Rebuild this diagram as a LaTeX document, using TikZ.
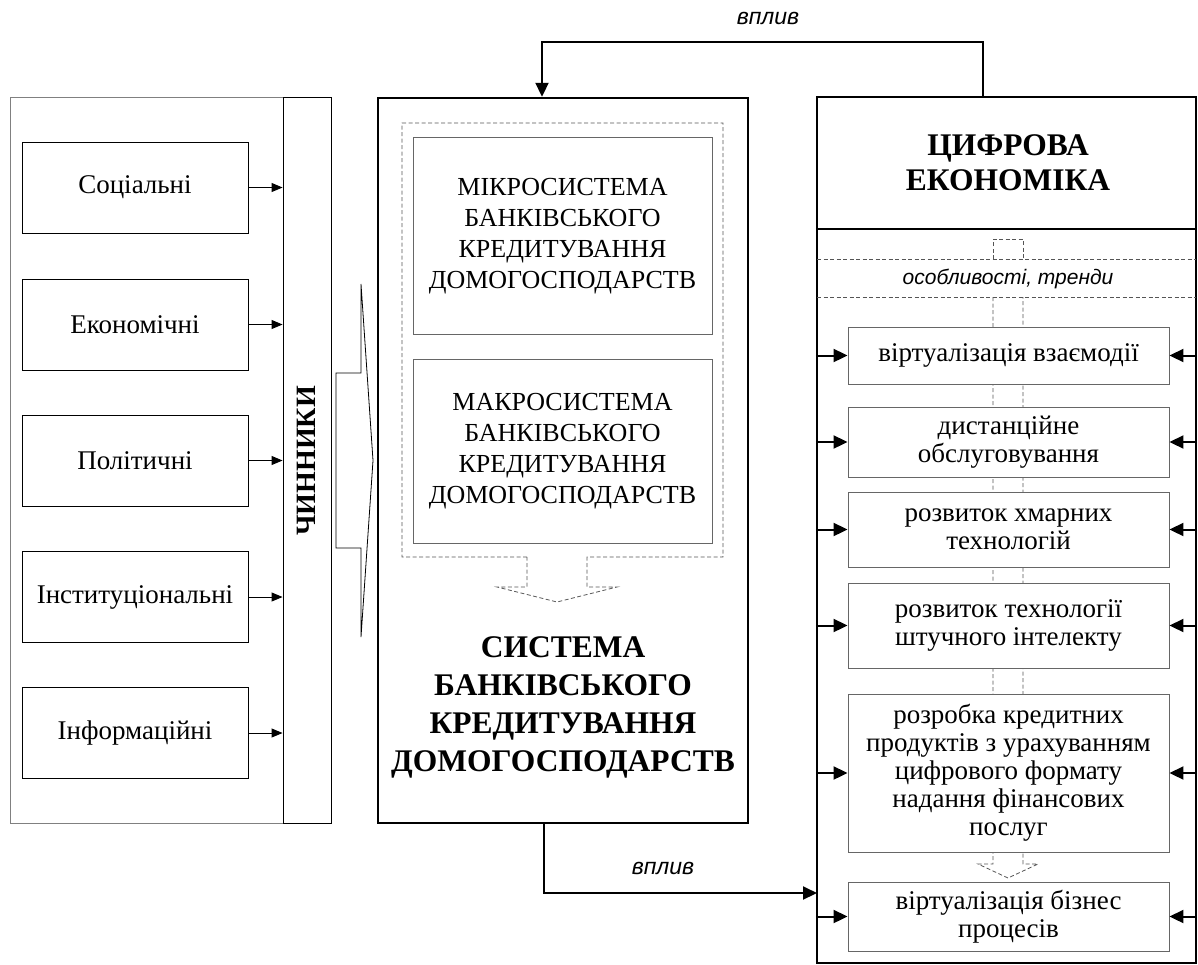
\documentclass[tikz,border=0pt]{standalone}
\usepackage{fontspec}
\setmainfont{Liberation Serif}
\newfontfamily\labelfont{Liberation Sans}
\usetikzlibrary{arrows.meta}
\definecolor{boxgray}{HTML}{666666}
\definecolor{outgray}{HTML}{808080}
\definecolor{dashgray}{HTML}{555555}
\tikzset{
  leftbox/.style={draw=black, line width=0.9pt, fill=white, minimum width=226pt, minimum height=91pt, inner sep=0pt, font=\fontsize{27}{31}\selectfont},
  midbox/.style={draw=boxgray, line width=0.9pt, fill=white, minimum width=299pt, inner sep=0pt, align=center, font=\fontsize{26}{31}\selectfont},
  rightbox/.style={draw=boxgray, line width=0.9pt, fill=white, minimum width=321pt, inner sep=0pt, align=center, font=\fontsize{27}{28}\selectfont},
  thinarrow/.style={line width=0.9pt, -{Triangle[length=11pt,width=9pt]}},
  thickarrow/.style={line width=2pt, -{Triangle[length=14pt,width=13pt]}},
  dashline/.style={draw=dashgray, line width=0.8pt, dash pattern=on 4pt off 2.5pt},
  infl/.style={font=\labelfont\itshape\fontsize{23}{26}\selectfont, inner sep=0pt},
  trendlabel/.style={font=\labelfont\itshape\fontsize{21}{24}\selectfont, inner sep=0pt}
}
\begin{document}
\begin{tikzpicture}[x=1pt,y=-1pt]
\useasboundingbox (0,0) rectangle (1198,964);

% ---------- left column ----------
\node[draw=outgray, line width=0.9pt, minimum width=321pt, minimum height=726pt, inner sep=0pt] (factors) at (170.5,460) {};
\node[draw=black, line width=0.9pt, minimum width=48pt, minimum height=726pt, inner sep=0pt] (chin) at (307,460) {};
\node[rotate=90, font=\bfseries\fontsize{28}{32}\selectfont, inner sep=0pt] (chintext) at (306,461) {ЧИННИКИ};

\node[leftbox] (soc) at (135,187.5) {Соціальні};
\node[leftbox] (eco) at (135,324.5) {Економічні};
\node[leftbox] (pol) at (135,460.5) {Політичні};
\node[leftbox] (ins) at (135,597) {Інституціональні};
\node[leftbox] (inf) at (135,733) {Інформаційні};

\foreach \n in {soc,eco,pol,ins,inf}
  \draw[thinarrow] (\n.east) -- (\n.east -| chin.west);

% big hollow arrow
\draw[line width=0.8pt, fill=white] (336,373) -- (361,373) -- (361,284) -- (373,460.5) -- (361,637) -- (361,548) -- (336,548) -- cycle;

% ---------- middle column ----------
\node[draw=black, line width=2.4pt, minimum width=370pt, minimum height=725pt, inner sep=0pt] (sys) at (563,460.5) {};
\draw[dashline] (527,557) -- (402,557) -- (402,123) -- (723,123) -- (723,557) -- (587,557) -- (587,587) -- (617,587) -- (557,602) -- (497,587) -- (527,587) -- cycle;
\node[midbox, minimum height=197pt] (micro) at (562.5,236) {МІКРОСИСТЕМА\\БАНКІВСЬКОГО\\КРЕДИТУВАННЯ\\ДОМОГОСПОДАРСТВ};
\node[midbox, minimum height=184pt] (macro) at (562.5,451) {МАКРОСИСТЕМА\\БАНКІВСЬКОГО\\КРЕДИТУВАННЯ\\ДОМОГОСПОДАРСТВ};
\node[align=center, inner sep=0pt, font=\bfseries\fontsize{31.5}{38}\selectfont] (systext) at (563,707) {СИСТЕМА\\БАНКІВСЬКОГО\\КРЕДИТУВАННЯ\\ДОМОГОСПОДАРСТВ};

% ---------- right column ----------
\node[draw=black, line width=2.4pt, minimum width=379pt, minimum height=866pt, inner sep=0pt] (digital) at (1006.5,530) {};
\draw[line width=2.4pt] (digital.west |- 0,229) -- (digital.east |- 0,229);
\node[align=center, inner sep=0pt, font=\bfseries\fontsize{31.5}{35}\selectfont] (dtitle) at (1008,163) {ЦИФРОВА\\ЕКОНОМІКА};

\draw[dashline] (993,259) -- (993,239) -- (1023,239) -- (1023,259);
\draw[dashline] (817,259) -- (1196,259);
\draw[dashline] (817,297) -- (1196,297);
\draw[dashline] (993,297) -- (993,864) -- (978,864) -- (1008,878) -- (1038,864) -- (1023,864) -- (1023,297);
\node[trendlabel] (trends) at (1008,279) {особливості, тренди};

\node[rightbox, minimum height=57pt] (r1) at (1008.5,355.5) {віртуалізація взаємодії};
\node[rightbox, minimum height=70pt] (r2) at (1008.5,442) {дистанційне\\обслуговування};
\node[rightbox, minimum height=75pt] (r3) at (1008.5,529.5) {розвиток хмарних\\технологій};
\node[rightbox, minimum height=85pt] (r4) at (1008.5,625.5) {розвиток технології\\штучного інтелекту};
\node[rightbox, minimum height=158pt] (r5) at (1008.5,773) {розробка кредитних\\продуктів з урахуванням\\цифрового формату\\надання фінансових\\послуг};
\node[rightbox, minimum height=69pt] (r6) at (1008.5,916.5) {віртуалізація бізнес\\процесів};

\foreach \n in {r1,r2,r3,r4,r5,r6} {
  \draw[thickarrow] (\n.west -| digital.west) -- (\n.west);
  \draw[thickarrow] (\n.east -| digital.east) -- (\n.east);
}

% ---------- influence connectors ----------
\draw[thickarrow] ([xshift=-23.5pt]digital.north) -- ++(0,-54) -| ([xshift=-21pt]sys.north);
\node[infl] (infl1) at (768,18) {вплив};

\coordinate (inB) at (817,893);
\draw[thickarrow] ([xshift=-19pt]sys.south) |- (inB);
\node[infl] (infl2) at (663,868) {вплив};
\end{tikzpicture}
\end{document}
